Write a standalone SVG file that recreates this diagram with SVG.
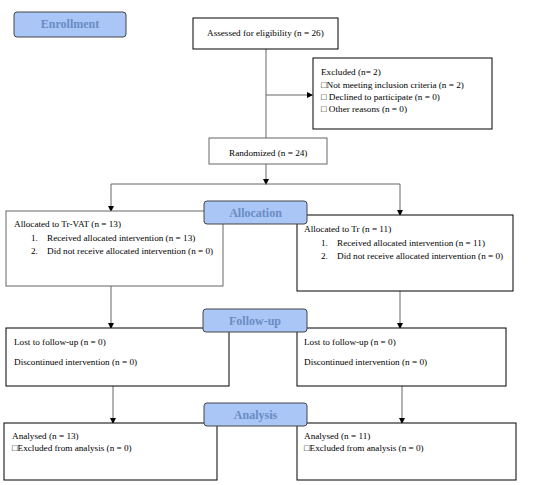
<svg xmlns="http://www.w3.org/2000/svg" width="541" height="485" viewBox="0 0 541 485">
<defs>
<marker id="ah" markerWidth="6" markerHeight="6" refX="5" refY="3" orient="auto" markerUnits="userSpaceOnUse">
<path d="M0,0 L6,3 L0,6 Z" fill="#000"/>
</marker>
<style>
.box{fill:#fff;stroke:#000;stroke-width:1}
.gbox{fill:#fff;stroke:#666;stroke-width:1}
.lab{fill:#a9c6f7;stroke:#444;stroke-width:1}
.lt{font-family:"Liberation Serif",serif;font-weight:bold;font-size:12px;fill:#6b8cc2;text-anchor:middle}
.t{font-family:"Liberation Serif",serif;font-size:9.2px;fill:#000}
.c{stroke:#666;stroke-width:1;fill:none}
</style>
</defs>
<rect width="541" height="485" fill="#fff"/>
<g id="connectors">
<path class="c" d="M266,49 V138"/>
<path class="c" d="M266,95 H312" marker-end="url(#ah)"/>
<path class="c" d="M266,164 V184" marker-end="url(#ah)"/>
<path class="c" d="M111,184 H400"/>
<path class="c" d="M111,184 V211" marker-end="url(#ah)"/>
<path class="c" d="M400,184 V215" marker-end="url(#ah)"/>
<path class="c" d="M111,286 V328" marker-end="url(#ah)"/>
<path class="c" d="M400,291 V328" marker-end="url(#ah)"/>
<path class="c" d="M113,386 V423" marker-end="url(#ah)"/>
<path class="c" d="M402,386 V423" marker-end="url(#ah)"/>
</g>
<g id="enrollment"><rect class="lab" x="14" y="12" width="112" height="25" rx="3"/><text class="lt" x="70" y="28">Enrollment</text></g>
<g id="assessed"><rect class="box" x="193" y="18" width="145" height="31"/><text class="t" x="207" y="36">Assessed for eligibility  (n = 26)</text></g>
<g id="excluded"><rect class="box" x="313" y="58" width="179" height="71"/>
<text class="t" x="321" y="75">Excluded (n= 2)</text>
<text class="t" x="321" y="88">□Not meeting inclusion criteria  (n = 2)</text>
<text class="t" x="321" y="100">□ Declined to participate (n = 0)</text>
<text class="t" x="321" y="112">□ Other reasons (n = 0)</text></g>
<g id="randomized"><rect class="gbox" x="209" y="138" width="118" height="26"/><text class="t" x="229" y="156">Randomized (n = 24)</text></g>
<g id="alloc-left"><rect class="gbox" x="6" y="211" width="217" height="75"/>
<text class="t" x="14" y="227">Allocated to Tr-VAT  (n = 13)</text>
<text class="t" x="31" y="241">1.</text><text class="t" x="47" y="241">Received allocated intervention (n = 13)</text>
<text class="t" x="31" y="254">2.</text><text class="t" x="47" y="254">Did not receive allocated intervention (n = 0)</text></g>
<g id="alloc-right"><rect class="box" x="297" y="215" width="216" height="76"/>
<text class="t" x="304" y="232">Allocated to Tr (n = 11)</text>
<text class="t" x="321" y="246">1.</text><text class="t" x="337" y="246">Received allocated intervention (n = 11)</text>
<text class="t" x="321" y="259" fill="#333">2.</text><text class="t" x="337" y="259">Did not receive allocated intervention (n = 0)</text></g>
<g id="allocation"><rect class="lab" x="204" y="201" width="103" height="23" rx="3"/><text class="lt" x="255.5" y="217">Allocation</text></g>
<g id="follow-left"><rect class="box" x="6" y="328" width="223" height="58"/>
<text class="t" x="14" y="345">Lost to follow-up (n = 0)</text>
<text class="t" x="14" y="365">Discontinued intervention (n = 0)</text></g>
<g id="follow-right"><rect class="box" x="297" y="328" width="209" height="58"/>
<text class="t" x="304" y="345">Lost to follow-up (n = 0)</text>
<text class="t" x="304" y="365">Discontinued intervention (n = 0)</text></g>
<g id="followup"><rect class="lab" x="203" y="309" width="104" height="23" rx="3"/><text class="lt" x="255" y="325">Follow-up</text></g>
<g id="analysis-left"><rect class="box" x="4" y="423" width="213" height="57"/>
<text class="t" x="12" y="439">Analysed (n = 13)</text>
<text class="t" x="12" y="451">□Excluded from analysis (n = 0)</text></g>
<g id="analysis-right"><rect class="box" x="297" y="423" width="219" height="57"/>
<text class="t" x="304" y="439">Analysed (n = 11)</text>
<text class="t" x="304" y="451">□Excluded from analysis (n = 0)</text></g>
<g id="analysis"><rect class="lab" x="204" y="403" width="103" height="23" rx="3"/><text class="lt" x="255.5" y="419">Analysis</text></g>
</svg>
